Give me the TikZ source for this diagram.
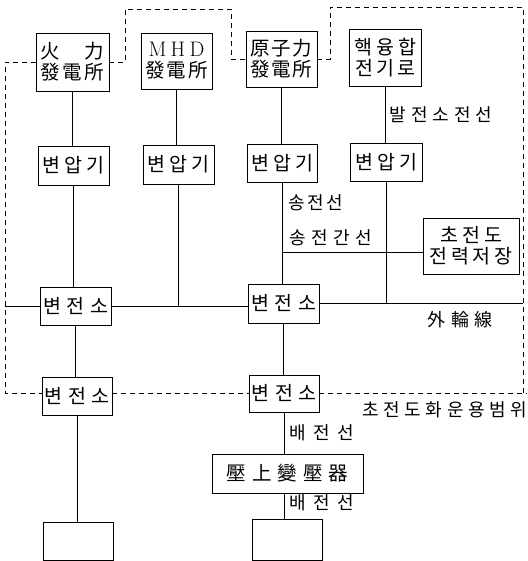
\documentclass[tikz,border=0pt]{standalone}
\usepackage{fontspec}
\newfontfamily\kr{Noto Sans CJK KR}
\newcommand\sw[2]{\makebox[#1pt][s]{#2}}
\newcommand\hf{\hfill}
\tikzset{
 box/.style={draw, line width=0.8pt, inner sep=0pt, align=center, font=\kr\fontsize{19.5}{21}\selectfont},
 lbl/.style={inner sep=0pt, font=\kr\fontsize{18}{20}\selectfont},
 ln/.style={line width=0.8pt},
 dsh/.style={line width=0.8pt, dash pattern=on 5pt off 4pt},
}
\begin{document}
\begin{tikzpicture}[x=1pt,y=-1pt]
\useasboundingbox (0,0) rectangle (527,561);
% top row
\node[box, minimum width=73pt, minimum height=58pt] (p1) at (72.5,62) {\sw{64}{火\hf{}力}\\\sw{64}{發\hf{}電\hf{}所}};
\node[box, minimum width=71pt, minimum height=56pt] (p2) at (176.5,61) {{\normalfont\fontsize{21}{21}\selectfont\sw{56}{M\hf{}H\hf{}D}}\\\sw{63}{發\hf{}電\hf{}所}};
\node[box, minimum width=71pt, minimum height=56pt] (p3) at (281.5,59) {\sw{62}{原\hf{}子\hf{}力}\\\sw{62}{發\hf{}電\hf{}所}};
\node[box, minimum width=72pt, minimum height=57pt] (p4) at (385,57.5) {\sw{62}{핵\hf{}융\hf{}합}\\\sw{60}{전\hf{}기\hf{}로}};
% transformers
\node[box, minimum width=71pt, minimum height=39pt] (t1) at (73.5,165.5) {\sw{62}{변\hf{}압\hf{}기}};
\node[box, minimum width=71pt, minimum height=39pt] (t2) at (178.5,164.5) {\sw{62}{변\hf{}압\hf{}기}};
\node[box, minimum width=70pt, minimum height=38pt] (t3) at (282,163) {\sw{62}{변\hf{}압\hf{}기}};
\node[box, minimum width=72pt, minimum height=38pt] (t4) at (386,162) {\sw{62}{변\hf{}압\hf{}기}};
% substations
\node[box, minimum width=71pt, minimum height=38pt] (s1) at (75.5,306) {\sw{65}{변\hf{}전\hf{}소}};
\node[box, minimum width=71pt, minimum height=39pt] (s2) at (283.5,303.5) {\sw{65}{변\hf{}전\hf{}소}};
\node[box, minimum width=96pt, minimum height=56pt] (sc) at (471,246) {\sw{62}{초\hf{}전\hf{}도}\\\sw{83}{전\hf{}력\hf{}저\hf{}장}};
\node[box, minimum width=70pt, minimum height=38pt] (s3) at (77,396) {\sw{65}{변\hf{}전\hf{}소}};
\node[box, minimum width=70pt, minimum height=37pt] (s4) at (284,393.5) {\sw{65}{변\hf{}전\hf{}소}};
\node[box, minimum width=151pt, minimum height=39pt] (ab) at (287.5,473.5) {\sw{122}{壓\hf{}上\hf{}變\hf{}壓\hf{}器}};
\node[box, minimum width=70pt, minimum height=38pt] (b1) at (78,541) {};
\node[box, minimum width=70pt, minimum height=41pt] (b2) at (287,540) {};
% labels
\node[lbl] (l1) at (441,115) {\sw{103}{발\hf{}전\hf{}소\hf{}전\hf{}선}};
\node[lbl] (l2) at (316,203) {\sw{55}{송\hf{}전\hf{}선}};
\node[lbl] (l3) at (331,238) {\sw{83}{송\hf{}전\hf{}간\hf{}선}};
\node[lbl] (l4) at (460,320) {\sw{66}{外\hf{}輪\hf{}線}};
\node[lbl, anchor=west] (l5) at (362,410) {\sw{165}{초\hf{}전\hf{}도\hf{}화\hf{}운\hf{}용\hf{}범\hf{}위}};
\node[lbl] (l6) at (322,433) {\sw{65}{배\hf{}전\hf{}선}};
\node[lbl] (l7) at (322,503) {\sw{65}{배\hf{}전\hf{}선}};
% solid connectors
\draw[ln] (p1.south) -- (p1.south |- t1.north);
\draw[ln] (t1.south) -- (t1.south |- s1.north);
\draw[ln] (s1.south) -- (s1.south |- s3.north);
\draw[ln] (s3.south) -- (s3.south |- b1.north);
\draw[ln] (p2.south) -- (p2.south |- t2.north);
\coordinate (j1) at (t2.south |- s1.east);
\draw[ln] (t2.south) -- (j1);
\draw[ln] (p3.south) -- (p3.south |- t3.north);
\draw[ln] (t3.south) -- (t3.south |- s2.north);
\draw[ln] (p4.south) -- (p4.south |- t4.north);
\coordinate (j2) at (t4.south |- s2.east);
\draw[ln] (t4.south) -- (j2);
\coordinate (j3) at (282,252);
\draw[ln] (j3) -- (j3 -| sc.west);
\coordinate (rl) at (5,306);
\draw[ln] (rl) -- (s1.west);
\draw[ln] (s1.east) -- (s1.east -| s2.west);
\coordinate (rr) at (523,303.5);
\draw[ln] (s2.east) -- (rr);
\draw[ln] (s2.south) -- (s2.south |- s4.north);
\draw[ln] (s4.south) -- (s4.south |- ab.north);
\draw[ln] (s4.south |- ab.south) -- (s4.south |- b2.north);
% dashed boundary
\coordinate (d1) at (5,62);
\coordinate (d2) at (5,393);
\coordinate (d3) at (527,393);
\draw[dsh] (p1.west) -- (d1) -- (d2) -- (s3.west |- d2);
\draw[dsh] (s3.east |- d2) -- (s4.west |- d2);
\draw[dsh] (s4.east |- d2) -- (d3);
\coordinate (u1) at (125,62);
\coordinate (u2) at (125,9);
\coordinate (u3) at (231,9);
\coordinate (u4) at (231,59);
\draw[dsh] (p1.east) -- (u1) -- (u2) -- (u3) -- (u4) -- (p3.west);
\coordinate (v1) at (330,59);
\coordinate (v2) at (330,7);
\coordinate (v3) at (523,7);
\coordinate (v4) at (523,393);
\draw[dsh] (p3.east) -- (v1) -- (v2) -- (v3) -- (v4);
\end{tikzpicture}
\end{document}
